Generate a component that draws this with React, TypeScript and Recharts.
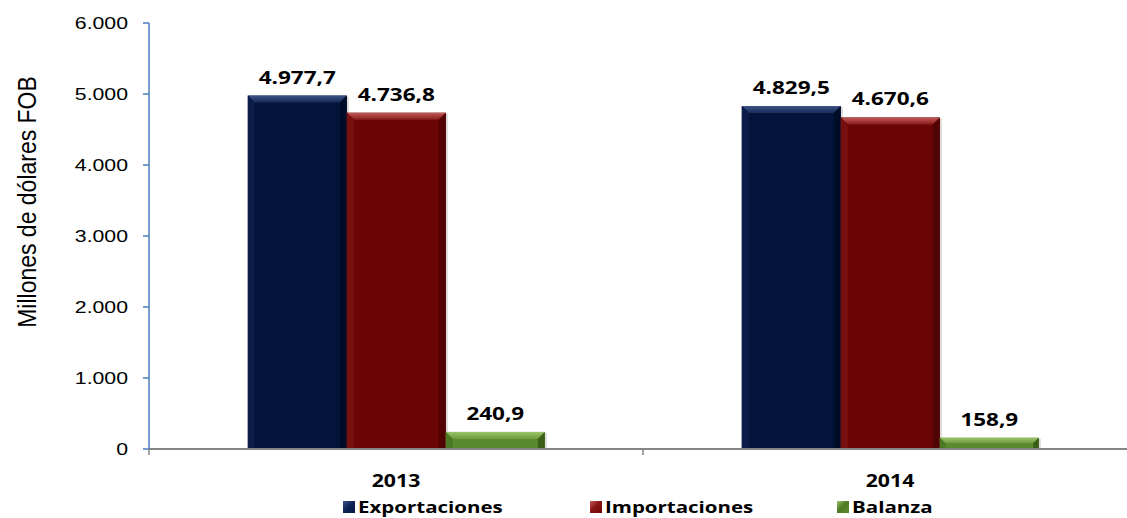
import React from "react";
import { Bar, BarChart, LabelList, Legend, XAxis, YAxis } from "recharts";

const categories = ["2013", "2014"];
const exportaciones = [4977.7, 4829.5];
const importaciones = [4736.8, 4670.6];
const balanza = [240.9, 158.9];
const yTicks = [0, 1000, 2000, 3000, 4000, 5000, 6000];

const data = categories.map((year, i) => ({
  year,
  exportaciones: exportaciones[i],
  importaciones: importaciones[i],
  balanza: balanza[i],
}));

const seriesKeys = ["exportaciones", "importaciones", "balanza"];

// the source picture is stretched sideways, so text gets the same stretch
const SX = 1.28;
const CHART_W = 1137;
const Y_AXIS_W = 149;
const BAND = (CHART_W - Y_AXIS_W) / categories.length;

const PAL = {
  exportaciones: { body: "#03143a", top1: "#3d5485", top2: "#18295a", left: "#0a1c47", right: "#010c28", key: "#10255a" },
  importaciones: { body: "#6b0606", top1: "#c15b5b", top2: "#8b1c1c", left: "#781010", right: "#520303", key: "#8a1414" },
  balanza: { body: "#5a8a2e", top1: "#9cc56a", top2: "#6c9a3c", left: "#4c7a24", right: "#3b5f18", key: "#4f7a28" },
};

const names: Record<string, string> = {
  exportaciones: "Exportaciones",
  importaciones: "Importaciones",
  balanza: "Balanza",
};

function fmt(v: number, decimals: number) {
  const [int, dec] = v.toFixed(decimals).split(".");
  const grouped = int.replace(/\B(?=(\d{3})+(?!\d))/g, ".");
  return dec ? `${grouped},${dec}` : grouped;
}

function BevelBar(props: any) {
  const { x, y, width, height, series } = props;
  if (!height || height <= 0) return null;
  const p = PAL[series as keyof typeof PAL];
  const b = Math.min(7, height / 2, width / 2);
  return (
    <g>
      <rect x={x + 2} y={y + 1} width={width} height={height} fill="#000" opacity={0.15} />
      <rect x={x} y={y} width={width} height={height} fill={p.body} />
      <polygon
        points={`${x},${y} ${x + width},${y} ${x + width - b},${y + b} ${x + b},${y + b}`}
        fill={`url(#top-${series})`}
      />
      <polygon points={`${x},${y} ${x + b},${y + b} ${x + b},${y + height} ${x},${y + height}`} fill={p.left} />
      <polygon
        points={`${x + width},${y} ${x + width - b},${y + b} ${x + width - b},${y + height} ${x + width},${y + height}`}
        fill={p.right}
      />
    </g>
  );
}

function ValueLabel(props: any) {
  const { x, y, width, value } = props;
  const cx = x + width / 2;
  return (
    <text
      transform={`translate(${cx},${y - 12}) scale(1.25,1)`}
      textAnchor="middle"
      fontFamily="'Open Sans', sans-serif"
      fontWeight={700}
      fontSize={18}
      fill="#000"
    >
      {fmt(value, 1)}
    </text>
  );
}

function YTick(props: any) {
  const { x, y, payload } = props;
  return (
    <text
      transform={`translate(${x},${y}) scale(1.25,1)`}
      textAnchor="end"
      dy="0.355em"
      fontFamily="'Liberation Sans', Arial, sans-serif"
      fontSize={17}
      fill="#000"
    >
      {fmt(payload.value, 0)}
    </text>
  );
}

function XTick(props: any) {
  const { x, y, payload, index, visibleTicksCount } = props;
  return (
    <g>
      <line x1={x - BAND / 2} x2={x - BAND / 2} y1={y} y2={y + 6} stroke="#868686" strokeWidth={1.5} />
      {index === visibleTicksCount - 1 && (
        <line x1={x + BAND / 2} x2={x + BAND / 2} y1={y} y2={y + 6} stroke="#868686" strokeWidth={1.5} />
      )}
      <text
        transform={`translate(${x},${y + 38}) scale(1.25,1)`}
        textAnchor="middle"
        fontFamily="'Open Sans', sans-serif"
        fontWeight={700}
        fontSize={17}
        fill="#000"
      >
        {payload.value}
      </text>
    </g>
  );
}

function YLabel(props: any) {
  const { viewBox } = props;
  const cx = viewBox.x + 27;
  const cy = viewBox.y + viewBox.height / 2 - 34;
  return (
    <text
      transform={`translate(${cx},${cy}) rotate(-90) scale(1,1.15)`}
      textAnchor="middle"
      dy="0.355em"
      fontFamily="'Liberation Sans', Arial, sans-serif"
      fontSize={23}
      fill="#000"
    >
      Millones de dólares FOB
    </text>
  );
}

function LegendBox() {
  return (
    <div style={{ position: "relative", height: 30 }}>
      {seriesKeys.map((k, i) => {
        const p = PAL[k as keyof typeof PAL];
        return (
          <div
            key={k}
            style={{ position: "absolute", left: 343 + i * 247, top: 10, display: "flex", alignItems: "center", whiteSpace: "nowrap" }}
          >
            <span
              style={{
                width: 12,
                height: 12,
                display: "inline-block",
                background: `linear-gradient(135deg, ${p.top1}, ${p.key} 45%, ${p.body})`,
              }}
            />
            <span
              style={{
                marginLeft: 3,
                display: "inline-block",
                transform: `scaleX(${SX})`,
                transformOrigin: "left center",
                fontFamily: "'Open Sans', sans-serif",
                fontWeight: 700,
                fontSize: 16,
                color: "#000",
                lineHeight: "18px",
              }}
            >
              {names[k]}
            </span>
          </div>
        );
      })}
    </div>
  );
}

export default function App() {
  return (
    <div style={{ position: "absolute", left: 0, top: 0, width: 1127, height: 518, overflow: "hidden", background: "#fff" }}>
      <BarChart
        width={CHART_W}
        height={518}
        data={data}
        margin={{ top: 23, right: 0, bottom: 0, left: 0 }}
        barCategoryGap="20%"
        barGap={0}
      >
        <defs>
          {seriesKeys.map((k) => {
            const p = PAL[k as keyof typeof PAL];
            return (
              <linearGradient key={k} id={`top-${k}`} x1="0" y1="0" x2="0" y2="1">
                <stop offset="0%" stopColor={p.top1} />
                <stop offset="100%" stopColor={p.top2} />
              </linearGradient>
            );
          })}
        </defs>
        <XAxis
          dataKey="year"
          height={39}
          tickSize={0}
          tickMargin={0}
          tick={<XTick />}
          axisLine={{ stroke: "#868686", strokeWidth: 2 }}
          tickLine={false}
        />
        <YAxis
          width={Y_AXIS_W}
          domain={[0, 6000]}
          ticks={yTicks}
          tickSize={6}
          tickMargin={15}
          tick={<YTick />}
          axisLine={{ stroke: "#4a7ebb", strokeWidth: 1.5 }}
          tickLine={{ stroke: "#4a7ebb", strokeWidth: 1.5 }}
          label={<YLabel />}
        />
        <Legend verticalAlign="bottom" height={30} content={<LegendBox />} wrapperStyle={{ left: 0, width: CHART_W }} />
        {seriesKeys.map((k) => (
          <Bar
            key={k}
            dataKey={k}
            name={names[k]}
            fill={PAL[k as keyof typeof PAL].body}
            isAnimationActive={false}
            shape={(p: any) => <BevelBar {...p} series={k} />}
          >
            <LabelList dataKey={k} content={<ValueLabel />} />
          </Bar>
        ))}
      </BarChart>
    </div>
  );
}
